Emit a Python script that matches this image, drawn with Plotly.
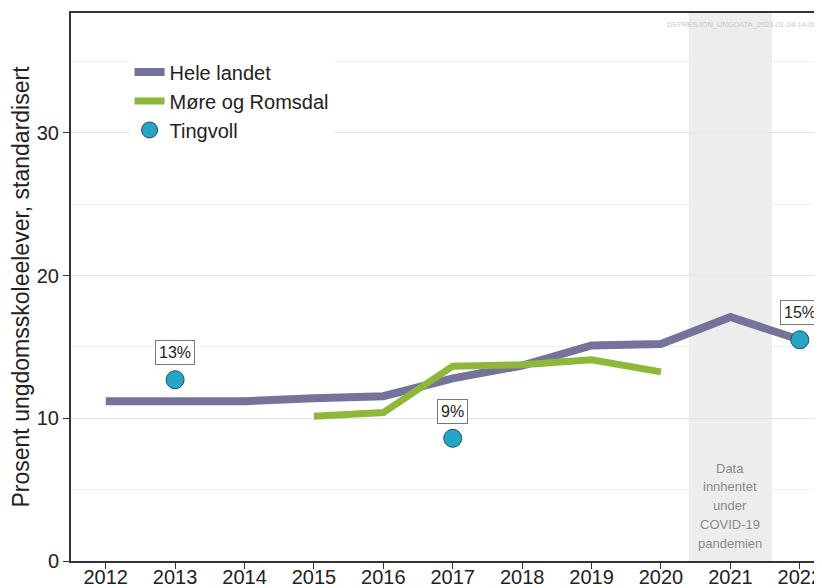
import plotly.graph_objects as go

years = [2012, 2013, 2014, 2015, 2016, 2017, 2018, 2019, 2020, 2021, 2022]
hele_landet = [11.2, 11.2, 11.2, 11.4, 11.55, 12.8, 13.7, 15.1, 15.2, 17.1, 15.5]
more_years = [2015, 2016, 2017, 2018, 2019, 2020]
more_romsdal = [10.15, 10.4, 13.65, 13.75, 14.1, 13.25]
ting_years = [2013, 2017, 2022]
tingvoll = [12.7, 8.6, 15.5]
ting_labels = ["13%", "9%", "15%"]
covid_span = [2020.4, 2021.6]
covid_lines = ["Data", "innhentet", "under", "COVID-19", "pandemien"]

FONT = "Liberation Sans, Arial, sans-serif"

fig = go.Figure()
fig.add_trace(go.Scatter(x=years, y=hele_landet, mode="lines", name="Hele landet",
                         line=dict(color="#74739a", width=8)))
fig.add_trace(go.Scatter(x=more_years, y=more_romsdal, mode="lines", name="Møre og Romsdal",
                         line=dict(color="#8db83a", width=7)))
fig.add_trace(go.Scatter(x=ting_years, y=tingvoll, mode="markers", name="Tingvoll",
                         marker=dict(color="#27a5c5", size=18, line=dict(color="#1d4f5e", width=1))))

fig.add_shape(type="rect", xref="x", yref="paper", x0=covid_span[0], x1=covid_span[1],
              y0=0, y1=1, fillcolor="#ededed", line_width=0, layer="below")

for x, y, t in zip(ting_years, tingvoll, ting_labels):
    fig.add_annotation(x=x, y=y, text=t, showarrow=False, yshift=27,
                       font=dict(size=16, color="#222", family=FONT),
                       bgcolor="white", bordercolor="#777", borderwidth=1, borderpad=3)

for i, line in enumerate(covid_lines):
    fig.add_annotation(x=sum(covid_span) / 2, y=0, xref="x", yref="y",
                       text=line, showarrow=False, yanchor="middle",
                       yshift=93 - i * 18.75,
                       font=dict(size=13, color="#8a8a8a", family=FONT))
fig.add_annotation(x=1, y=0.99, xref="paper", yref="paper", xanchor="right", yanchor="top",
                   xshift=-3,
                   text="DEPRESJON_UNGDATA_2023-01-04-14-09", showarrow=False,
                   font=dict(size=7.5, color="#c8c8c8", family=FONT))

fig.update_layout(
    width=814, height=580,
    margin=dict(l=63, r=0, t=5, b=27),
    paper_bgcolor="white", plot_bgcolor="white",
    font=dict(family=FONT, color="#222"),
    showlegend=True,
    legend=dict(x=0.078, y=0.928, xanchor="left", yanchor="top", bgcolor="white",
                font=dict(size=20, family=FONT, color="#222"), itemwidth=30,
                tracegroupgap=0),
    xaxis=dict(range=[2011.5, 2022.32], tickvals=years, showgrid=False,
               showline=True, linecolor="#333", linewidth=2, mirror=True,
               ticks="outside", ticklen=6, tickcolor="#333", automargin=False,
               ticklabeloverflow="allow", ticklabelstandoff=-9,
               tickfont=dict(size=20, color="#222"), zeroline=False),
    yaxis=dict(range=[0, 38.4], dtick=10, tick0=0, showgrid=True, gridcolor="#e3e3e3",
               minor=dict(dtick=5, showgrid=True, gridcolor="#efefef"),
               showline=True, linecolor="#333", linewidth=2, automargin=False,
               ticks="outside", ticklen=6, tickcolor="#333",
               tickfont=dict(size=20, color="#222"), zeroline=False,
               title=dict(text="Prosent ungdomsskoleelever, standardisert",
                          font=dict(size=23, color="#222"), standoff=6)),
)

fig.write_html("out.html")
